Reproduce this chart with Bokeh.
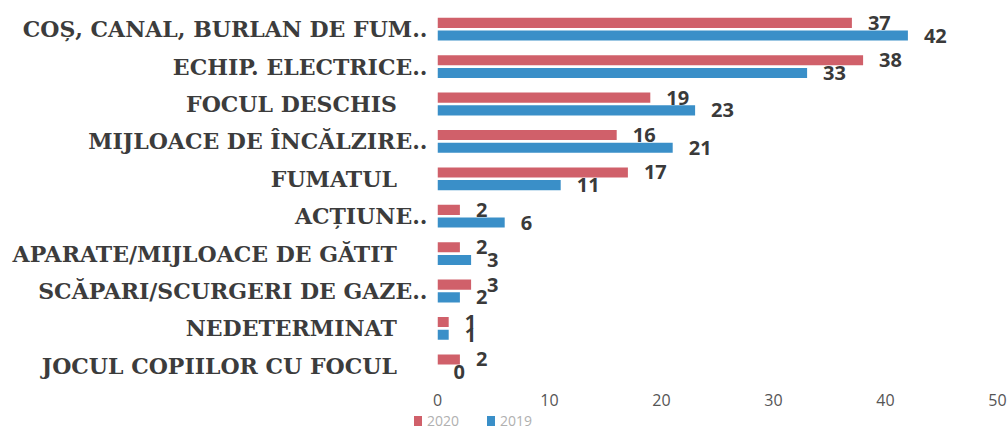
from bokeh.plotting import figure
from bokeh.layouts import column
from bokeh.models import ColumnDataSource, FactorRange, FixedTicker, Div
from bokeh.transform import dodge
from bokeh.core.properties import value
from bokeh.embed import file_html
from bokeh.resources import INLINE

NB = "\u00a0"
categories = [
    "COȘ, CANAL, BURLAN DE FUM..",
    "ECHIP. ELECTRICE..",
    "FOCUL DESCHIS" + NB * 4,
    "MIJLOACE DE ÎNCĂLZIRE..",
    "FUMATUL" + NB * 4,
    "ACȚIUNE..",
    "APARATE/MIJLOACE DE GĂTIT" + NB * 4,
    "SCĂPARI/SCURGERI DE GAZE..",
    "NEDETERMINAT" + NB * 4,
    "JOCUL COPIILOR CU FOCUL" + NB * 4,
]
values_2020 = [37, 38, 19, 16, 17, 2, 2, 3, 1, 2]
values_2019 = [42, 33, 23, 21, 11, 6, 3, 2, 1, 0]
x_ticks = [0, 10, 20, 30, 40, 50]
series_names = ["2020", "2019"]

RED = "#d0606a"
BLUE = "#3a8fc8"

src = ColumnDataSource(dict(cat=categories, v20=values_2020, v19=values_2019,
                            t20=[str(v) for v in values_2020],
                            t19=[str(v) for v in values_2019]))

p = figure(width=1007, height=412, output_backend="svg", toolbar_location=None,
           y_range=FactorRange(factors=categories[::-1], range_padding=0),
           x_range=(0, 50))
p.min_border_left = 437
p.min_border_right = 10
p.min_border_top = 10
p.min_border_bottom = 28
p.outline_line_color = None
p.background_fill_color = "white"
p.border_fill_color = "white"

p.hbar(y=dodge("cat", 0.17, range=p.y_range), right="v20", left=0, height=0.27,
       source=src, fill_color=RED, line_color=None)
p.hbar(y=dodge("cat", -0.17, range=p.y_range), right="v19", left=0, height=0.27,
       source=src, fill_color=BLUE, line_color=None)

for col, txt, dy in (("v20", "t20", 0.17), ("v19", "t19", -0.17)):
    p.text(x=col, y=dodge("cat", dy, range=p.y_range), text=txt, source=src,
           x_offset=16, text_align="left", text_baseline="middle",
           text_font=value("Open Sans"), text_font_style="bold",
           text_font_size="20px", text_color="#3a3a3a")

p.xgrid.grid_line_color = None
p.ygrid.grid_line_color = None

p.yaxis.axis_line_color = None
p.yaxis.major_tick_line_color = None
p.yaxis.minor_tick_line_color = None
p.yaxis.major_label_text_font = "DejaVu Serif"
p.yaxis.major_label_text_font_style = "bold"
p.yaxis.major_label_text_font_size = "22px"
p.yaxis.major_label_text_color = "#3c3c3c"
p.yaxis.major_label_standoff = 4

p.xaxis.ticker = FixedTicker(ticks=x_ticks)
p.xaxis.axis_line_color = None
p.xaxis.major_tick_line_color = None
p.xaxis.minor_tick_line_color = None
p.xaxis.major_label_text_font = "Open Sans"
p.xaxis.major_label_text_font_size = "16px"
p.xaxis.major_label_text_color = "#555555"
p.xaxis.major_label_standoff = 3

# legend strip below the chart
items_html = ""
for i, (name, colr) in enumerate(zip(series_names, [RED, BLUE])):
    ml = 414 if i == 0 else 28
    items_html += (
        f'<span style="display:inline-block;width:8px;height:10px;background:{colr};'
        f'margin-left:{ml}px;margin-right:5px;vertical-align:middle"></span>'
        f'<span style="vertical-align:middle">{name}</span>'
    )
legend_div = Div(
    text=f'<div style="font-family:\'Open Sans\';font-size:14px;color:#b0b0b0;'
         f'line-height:16px;white-space:nowrap">{items_html}</div>',
    width=1007, height=18, margin=0)

layout = column(p, legend_div, spacing=0)
open("out.html", "w").write(file_html(layout, INLINE))
